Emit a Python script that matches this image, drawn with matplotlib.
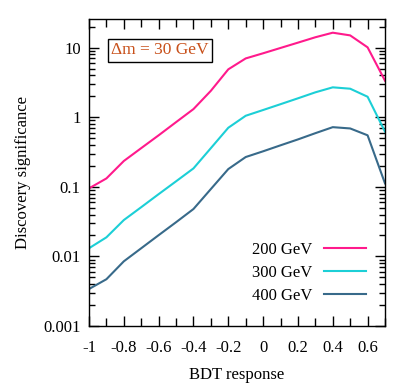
import matplotlib
matplotlib.use("Agg")
import matplotlib.pyplot as plt
from matplotlib.ticker import FixedLocator, NullFormatter, LogLocator

plt.rcParams['font.family'] = ['Liberation Serif', 'DejaVu Serif']

bdt = [-1.0, -0.9, -0.8, -0.7, -0.6, -0.5, -0.4, -0.3, -0.2, -0.1,
       0.0, 0.1, 0.2, 0.3, 0.4, 0.5, 0.6, 0.7]
sig_200 = [0.095, 0.132, 0.235, 0.36, 0.55, 0.85, 1.31, 2.4, 4.88, 7.0,
           8.3, 9.9, 11.8, 14.1, 16.4, 15.0, 10.1, 3.35]
sig_300 = [0.0131, 0.0188, 0.0333, 0.051, 0.0785, 0.12, 0.184, 0.36, 0.706, 1.05,
           1.27, 1.54, 1.87, 2.28, 2.69, 2.57, 1.97, 0.62]
sig_400 = [0.0034, 0.0047, 0.0085, 0.0131, 0.0202, 0.031, 0.048, 0.093, 0.18, 0.268,
           0.324, 0.395, 0.48, 0.59, 0.72, 0.69, 0.55, 0.112]
labels = ['200 GeV', '300 GeV', '400 GeV']
colors = ['#ff1a8c', '#1ccfd6', '#386a8a']
xticks = [-1, -0.8, -0.6, -0.4, -0.2, 0, 0.2, 0.4, 0.6]
xticklabels = ['-1', '-0.8', '-0.6', '-0.4', '-0.2', '0', '0.2', '0.4', '0.6']
yticks = [0.001, 0.01, 0.1, 1, 10]
yticklabels = ['0.001', '0.01', '0.1', '1', '10']

fig = plt.figure(figsize=(4.11, 3.86), dpi=100)
ax = fig.add_axes([89/411, 60/386, 296/411, 307/386])

for y, lab, c in zip([sig_200, sig_300, sig_400], labels, colors):
    ax.plot(bdt, y, color=c, lw=1.5, label=lab)

ax.set_yscale('log')
ax.set_xlim(-1, 0.7)
ax.set_ylim(0.001, 25.8)
ax.set_xticks(xticks)
ax.set_xticklabels(xticklabels)
ax.xaxis.set_minor_locator(FixedLocator([-0.9, -0.7, -0.5, -0.3, -0.1, 0.1, 0.3, 0.5, 0.7]))
ax.set_yticks(yticks)
ax.set_yticklabels(yticklabels)
ax.yaxis.set_minor_locator(LogLocator(base=10, subs=range(2, 10)))
ax.yaxis.set_minor_formatter(NullFormatter())

ax.tick_params(which='both', direction='in', top=True, right=True, labelsize=12, colors='black')
ax.tick_params(which='major', length=7, width=1)
ax.tick_params(which='minor', length=4, width=1)
ax.tick_params(axis='x', which='minor', length=6)
ax.tick_params(axis='x', which='major', pad=10)
ax.tick_params(axis='y', which='major', pad=6)
for s in ax.spines.values():
    s.set_linewidth(1.0)

ax.set_xlabel('BDT response', fontsize=12, labelpad=8)
ax.set_ylabel('Discovery significance', fontsize=12, labelpad=9)

ax.text(0.075, 0.898, 'Δm = 30 GeV', transform=ax.transAxes, fontsize=12.5,
        color='#c8501a', va='center', ha='left',
        bbox=dict(boxstyle='square,pad=0.2', fc='white', ec='black', lw=1.0))

leg = ax.legend(loc='lower right', bbox_to_anchor=(0.985, 0.022), frameon=False,
                markerfirst=False, fontsize=12, handlelength=2.5,
                handletextpad=0.7, labelspacing=0.42)

fig.savefig('out.png', dpi=100)
